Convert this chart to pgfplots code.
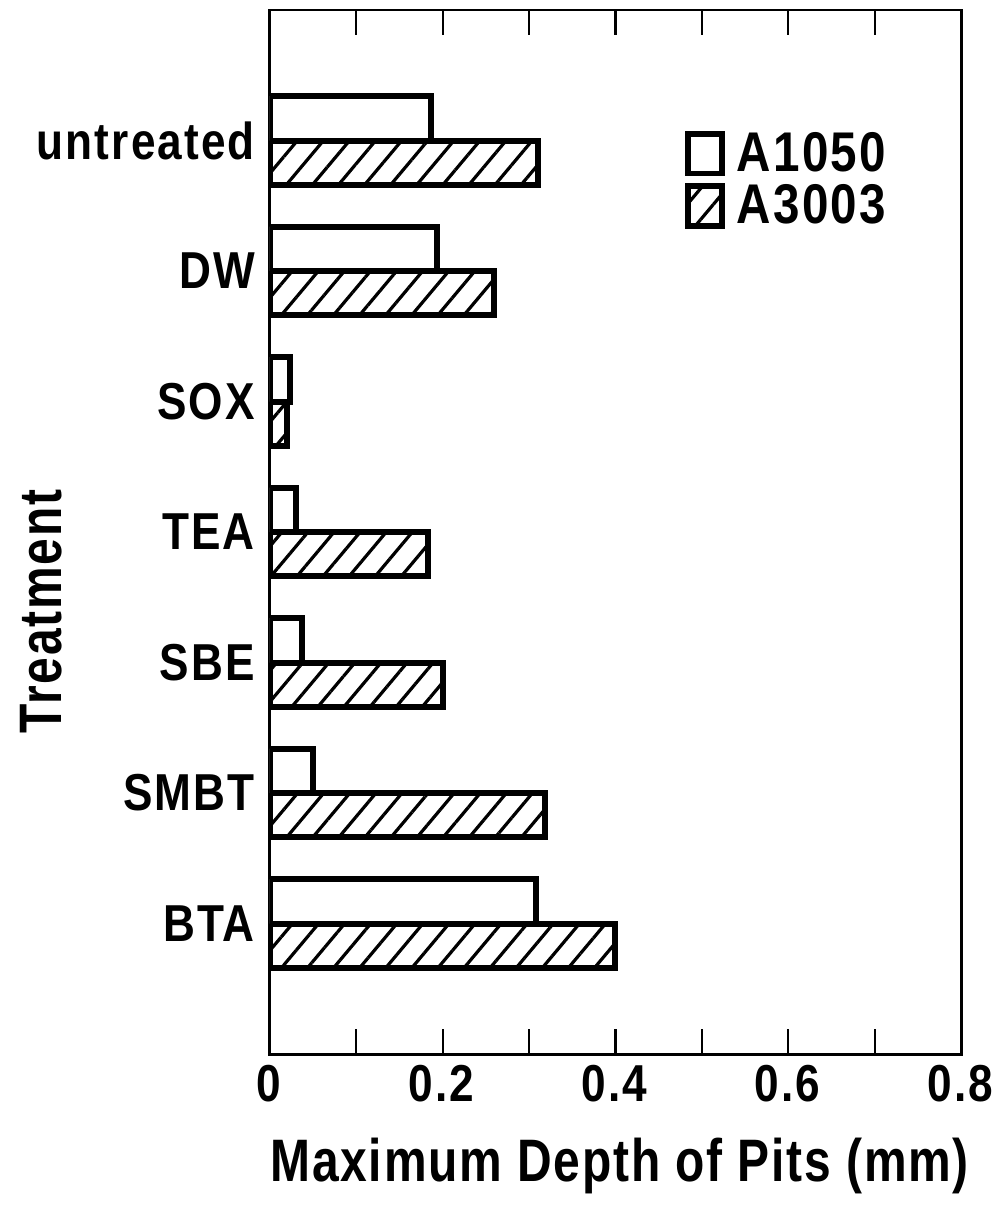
\documentclass[border=0pt]{standalone}
\usepackage{pgfplots}
\pgfplotsset{compat=1.18}
\usepackage{fontspec}
\setmainfont{Liberation Sans}[FakeStretch=0.85, LetterSpace=4]
\newfontfamily\labelfont{Liberation Sans}[FakeStretch=0.8, LetterSpace=3]
\usetikzlibrary{patterns.meta}
\begin{document}
\begin{tikzpicture}
\begin{axis}[
  scale only axis, width=346pt, height=522.5pt,
  xmin=0, xmax=0.8, ymin=0, ymax=8, y dir=reverse,
  xtick={0,0.2,0.4,0.6,0.8}, minor xtick={0.1,0.3,0.5,0.7},
  xticklabels={\textbf{0},\textbf{0.2},\textbf{0.4},\textbf{0.6},\textbf{0.8}},
  ytick={1,2,3,4,5,6,7},
  yticklabels={untreated,DW,SOX,TEA,SBE,SMBT,BTA},
  xtick pos=both, tick align=inside,
  major tick length=12.5pt, minor tick length=12.5pt,
  ytick style={draw=none},
  xtick style={line width=1.1pt, black},
  minor x tick style={line width=1.1pt, black},
  axis line style={line width=1.4pt},
  xticklabel style={font=\fontsize{26}{26}\selectfont\bfseries, yshift=-2pt},
  yticklabel style={font=\fontsize{26}{26}\selectfont\bfseries, xshift=-4pt},
  xlabel={Maximum Depth of Pits (mm)},
  xlabel style={at={(axis description cs:0.506,0)}, anchor=center, yshift=-56pt,
    font=\fontsize{30}{30}\labelfont\bfseries},
  ylabel={Treatment},
  ylabel style={at={(axis description cs:-0.33,0.424)}, anchor=center,
    font=\fontsize{30}{30}\labelfont\bfseries},
  legend style={draw=none, fill=none, at={(axis description cs:0.6,0.885)}, anchor=north west,
    font=\fontsize{28}{28}\selectfont\bfseries, row sep=3pt, inner sep=0pt,
    nodes={inner sep=1pt}, cells={anchor=west}},
]
\addplot[xbar, bar width=0.34, bar shift=-0.17, draw=black, line width=3pt, fill=white,
  legend image code/.code={\draw[line width=3pt, fill=white] (0pt,-10pt) rectangle (17pt,10pt);}]
  coordinates {(0.187,1) (0.194,2) (0.023,3) (0.030,4) (0.037,5) (0.050,6) (0.308,7)};
\addlegendentry{\hspace{5pt}A1050}
\addplot[xbar, bar width=0.34, bar shift=0.17, draw=black, line width=3pt,
  pattern={Lines[angle=50,distance=10pt,line width=1.6pt]},
  legend image code/.code={\draw[line width=3pt, pattern={Lines[angle=50,distance=10pt,line width=1.6pt]}] (0pt,-10pt) rectangle (17pt,10pt);}]
  coordinates {(0.310,1) (0.260,2) (0.020,3) (0.183,4) (0.200,5) (0.318,6) (0.400,7)};
\addlegendentry{\hspace{5pt}A3003}
\end{axis}
\path ([yshift=5pt]current axis.north) ([yshift=5pt]current axis.south)
      ([yshift=-78pt]current axis.north) ([yshift=-78pt]current axis.south)
      ([xshift=-135pt]current axis.west) ([xshift=15pt]current axis.east);
\end{tikzpicture}
\end{document}
